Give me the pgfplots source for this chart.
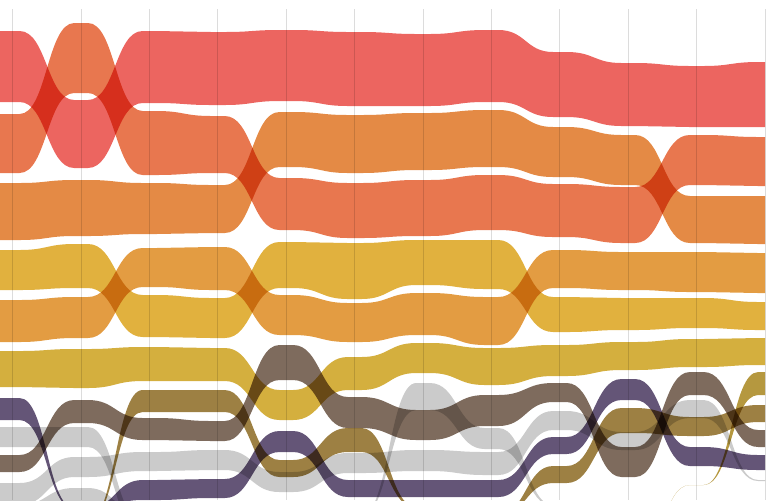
\documentclass[border=0pt]{standalone}
\usepackage{pgfplots}
\pgfplotsset{compat=1.18}
\makeatletter
\newdimen\bmp@qx \newdimen\bmp@qy \newdimen\bmp@px \newdimen\bmp@py
\newdimen\bmp@d \newdimen\bmp@last \newdimen\bmp@off
\def\pgfplothandlerbump{%
  \def\pgf@plotstreamstart{%
    \global\let\pgf@plotstreampoint=\bmp@first
    \global\let\pgf@plotstreamspecial=\@gobble
    \global\let\pgf@plotstreamend=\bmp@end
  }%
}
\def\bmp@first#1{%
  \pgf@process{#1}%
  \global\bmp@qx=\pgf@x \global\bmp@qy=\pgf@y
  \global\let\pgf@plotstreampoint=\bmp@second
}
\def\bmp@second#1{%
  \pgf@process{#1}%
  \global\bmp@px=\pgf@x \global\bmp@py=\pgf@y
  \global\bmp@d=\bmp@px \global\advance\bmp@d by -\bmp@qx
  \pgf@plot@first@action{\pgfqpoint{\dimexpr\bmp@qx-2\bmp@d\relax}{\bmp@qy}}%
  \pgfpathlineto{\pgfqpoint{\bmp@qx}{\bmp@qy}}%
  \bmp@seg
  \global\let\pgf@plotstreampoint=\bmp@next
}
\def\bmp@next#1{%
  \pgf@process{#1}%
  \global\bmp@px=\pgf@x \global\bmp@py=\pgf@y
  \global\bmp@d=\bmp@px \global\advance\bmp@d by -\bmp@qx
  \bmp@seg
}
\def\bmp@seg{%
  \ifdim\bmp@d<0.01pt
    \ifdim\bmp@d>-0.01pt
      \bmp@vert
    \else
      \bmp@curve
    \fi
  \else
    \bmp@curve
  \fi
  \global\bmp@qx=\bmp@px \global\bmp@qy=\bmp@py
}
\def\bmp@vert{\pgfpathlineto{\pgfqpoint{\bmp@px}{\bmp@py}}}
\def\bmp@curve{%
  \global\bmp@last=\bmp@d
  \global\bmp@off=0.1\bmp@d
  \pgfpathlineto{\pgfqpoint{\dimexpr\bmp@qx+\bmp@off\relax}{\bmp@qy}}%
  \pgfpathcurveto
    {\pgfqpoint{\dimexpr\bmp@qx+\bmp@d/2\relax}{\bmp@qy}}%
    {\pgfqpoint{\dimexpr\bmp@qx+\bmp@d/2\relax}{\bmp@py}}%
    {\pgfqpoint{\dimexpr\bmp@px-\bmp@off\relax}{\bmp@py}}%
  \pgfpathlineto{\pgfqpoint{\bmp@px}{\bmp@py}}%
}
\def\bmp@end{%
  \pgfpathlineto{\pgfqpoint{\dimexpr\bmp@qx+2\bmp@last\relax}{\bmp@qy}}%
}
\tikzset{bump plot/.code={\let\tikz@plot@handler=\pgfplothandlerbump}}
\makeatother

\definecolor{cR}{HTML}{EC6560}
\definecolor{cOR}{HTML}{E8774F}
\definecolor{cO}{HTML}{E48A45}
\definecolor{cY}{HTML}{E1B13E}
\definecolor{cYO}{HTML}{E39C42}
\definecolor{cM}{HTML}{D4AF3E}
\definecolor{cB}{HTML}{7E6B5D}
\definecolor{cOl}{HTML}{9D8043}
\definecolor{cP}{HTML}{645577}
\definecolor{cG}{HTML}{CBCBCB}
\definecolor{cGO}{HTML}{B5983F}
\definecolor{gridc}{HTML}{DCDCDC}

\pgfplotsset{rib/.style={draw=none, fill=#1, bump plot, blend mode=multiply}}

\begin{document}
\begin{tikzpicture}
\begin{axis}[
  scale only axis, width=384pt, height=250pt,
  xmin=-0.1857, xmax=11.0424, ymin=0, ymax=500, y dir=reverse,
  hide axis, clip=true,
]
\coordinate (bbll) at (rel axis cs:0,0);
\coordinate (bbur) at (rel axis cs:1,1);
\pgfplotsinvokeforeach{0,1,2,3,4,5,6,7,8,9,10,11}{
  \draw[gridc, line width=0.5pt] (axis cs:#1,9) -- (axis cs:#1,500);
}
% red
\addplot[rib=cR] coordinates {
 (0,31) (1,100) (2,31) (3,32) (4,30) (5,32) (6,34) (7,30) (8,52) (9,63) (10,66) (11,62)
 (11,127) (10,127) (9,126) (8,117) (7,102) (6,106) (5,106) (4,101) (3,105) (2,103) (1,168) (0,102)};
% orange-red
\addplot[rib=cOR] coordinates {
 (0,114) (1,23) (2,111) (3,116) (4,178) (5,183) (6,180) (7,175) (8,184) (9,187) (10,135) (11,137)
 (11,186) (10,185) (9,243) (8,237) (7,230) (6,236) (5,238) (4,230) (3,173) (2,175) (1,93) (0,173)};
% orange
\addplot[rib=cO] coordinates {
 (0,183) (1,180) (2,183) (3,185) (4,112) (5,115) (6,113) (7,110) (8,127) (9,135) (10,196) (11,196)
 (11,244) (10,243) (9,185) (8,177) (7,167) (6,170) (5,173) (4,167) (3,233) (2,234) (1,236) (0,240)};
% yellow
\addplot[rib=cY] coordinates {
 (0,250) (1,244) (2,295) (3,298) (4,242) (5,243) (6,240) (7,240) (8,297) (9,298) (10,298) (11,302)
 (11,330) (10,328) (9,330) (8,332) (7,289) (6,285) (5,299) (4,288) (3,338) (2,337) (1,288) (0,290)};
% yellow-orange
\addplot[rib=cYO] coordinates {
 (0,300) (1,297) (2,248) (3,247) (4,295) (5,303) (6,293) (7,297) (8,250) (9,252) (10,252) (11,253)
 (11,293) (10,292) (9,290) (8,288) (7,345) (6,335) (5,342) (4,335) (3,290) (2,287) (1,338) (0,342)};
% mustard
\addplot[rib=cM] coordinates {
 (0,351) (1,349) (2,347) (3,348) (4,390) (5,357) (6,343) (7,348) (8,345) (9,342) (10,339) (11,338)
 (11,365) (10,367) (9,370) (8,376) (7,385) (6,373) (5,390) (4,420) (3,381) (2,381) (1,388) (0,387)};
% brown
\addplot[rib=cB] coordinates {
 (0,455) (1,400) (2,418) (3,421) (4,345) (5,397) (6,410) (7,395) (8,383) (9,447) (10,372) (11,430)
 (11,447) (10,395) (9,477) (8,402) (7,426) (6,440) (5,428) (4,380) (3,441) (2,440) (1,423) (0,472)};
% olive
\addplot[rib=cOl] coordinates {
 (0,530) (1,521) (2,390) (3,390) (4,460) (5,428) (6,507) (7,515) (8,466) (9,408) (10,417) (11,405)
 (11,422) (10,436) (9,433) (8,483) (7,516) (6,508) (5,452) (4,477) (3,412) (2,412) (1,522) (0,531)};
% purple
\addplot[rib=cP] coordinates {
 (0,398) (1,508) (2,480) (3,479) (4,431) (5,480) (6,480) (7,480) (8,437) (9,379) (10,447) (11,455)
 (11,470) (10,466) (9,400) (8,454) (7,497) (6,497) (5,497) (4,452) (3,498) (2,500) (1,509) (0,420)};
% grey 1
\addplot[rib=cG] coordinates {
 (0,427) (1,427) (2,522) (3,540) (4,540) (5,515) (6,383) (7,428) (8,505) (9,540) (10,540) (11,540)
 (11,541) (10,541) (9,541) (8,506) (7,449) (6,410) (5,516) (4,541) (3,541) (2,535) (1,447) (0,447)};
% grey 2
\addplot[rib=cG] coordinates {
 (0,483) (1,457) (2,452) (3,450) (4,472) (5,453) (6,450) (7,452) (8,411) (9,432) (10,400) (11,480)
 (11,481) (10,418) (9,450) (8,430) (7,475) (6,471) (5,473) (4,492) (3,470) (2,471) (1,477) (0,505)};
% grey 3
\addplot[rib=cG] coordinates {
 (0,505) (1,488) (2,515) (3,540) (4,540) (5,540) (6,540) (7,540) (8,540) (9,540) (10,540) (11,540)
 (11,540) (10,540) (9,540) (8,540) (7,540) (6,540) (5,540) (4,540) (3,541) (2,530) (1,506) (0,505)};
% golden olive
\addplot[rib=cGO] coordinates {
 (0,560) (1,560) (2,560) (3,560) (4,560) (5,560) (6,560) (7,560) (8,560) (9,560) (10,485) (11,372)
 (11,395) (10,485) (9,560) (8,560) (7,560) (6,560) (5,560) (4,560) (3,560) (2,560) (1,560) (0,560)};
\end{axis}
\pgfresetboundingbox
\path[use as bounding box] (bbll) rectangle (bbur);
\end{tikzpicture}
\end{document}
